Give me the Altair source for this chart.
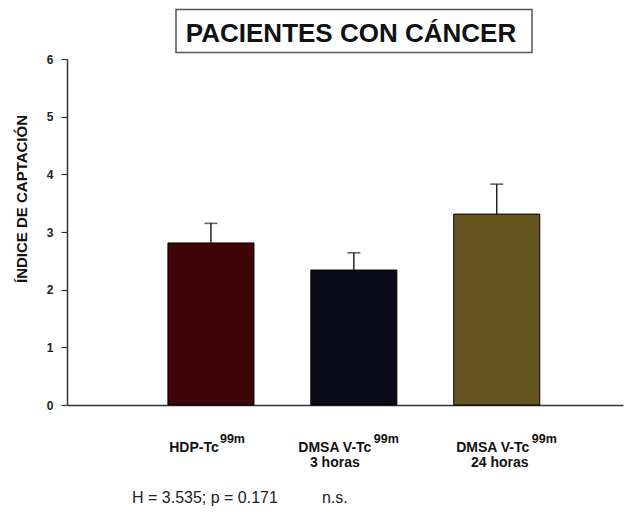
import altair as alt
import pandas as pd

# ---- data ----
categories = ["HDP", "DMSA3", "DMSA24"]
main_labels = ["HDP-Tc", "DMSA V-Tc", "DMSA V-Tc"]
sup_labels = ["99m", "99m", "99m"]
second_lines = ["", "3 horas", "24 horas"]
means = [2.81, 2.34, 3.31]
upper = [3.15, 2.64, 3.83]
colors = ["#3e0608", "#0a0a18", "#665521"]
y_ticks = [0, 1, 2, 3, 4, 5, 6]
title_text = "PACIENTES CON CÁNCER"
y_title = "ÍNDICE DE CAPTACIÓN"
footer_stat = "H = 3.535; p = 0.171"
footer_ns = "n.s."

df = pd.DataFrame({
    "cat": categories,
    "main": main_labels,
    "sup": sup_labels,
    "line2": second_lines,
    "mean": means,
    "upper": upper,
})

FONT = "Liberation Sans"
W, H = 556, 346

# style offsets (pixels) for the composite labels
main_dx = [-17, -19, -4]
sup_dx = [9, 20, 35]
line2_dx = [0, -19, 3]

xscale = alt.Scale(domain=categories, paddingInner=0.398, paddingOuter=0.6445, align=0.548)
x_enc = alt.X("cat:N", sort=categories, scale=xscale,
              axis=alt.Axis(labels=False, ticks=False, title=None, domainColor="#333",
                            domainWidth=1.5, grid=False))

base = alt.Chart(df)

bars = base.mark_bar(stroke="#000", strokeWidth=1).encode(
    x=x_enc,
    y=alt.Y("mean:Q", scale=alt.Scale(domain=[0, 6], nice=False),
            axis=alt.Axis(values=y_ticks, format="d", tickSize=6, tickColor="#333",
                          tickWidth=1.2, labelPadding=8, labelFont=FONT,
                          labelFontSize=12, labelFontWeight="bold", labelColor="#222",
                          domainColor="#333", domainWidth=1.5, grid=False,
                          title=y_title, titleFont=FONT, titleFontSize=15,
                          titleFontWeight="bold", titleColor="#111", titleAngle=270,
                          titleX=-41, titleY=139.5, titleAlign="center",
                          titleBaseline="alphabetic")),
    color=alt.Color("cat:N", sort=categories,
                    scale=alt.Scale(domain=categories, range=colors), legend=None),
)

stems = base.mark_rule(strokeWidth=1.5, color="#222").encode(
    x=alt.X("cat:N", sort=categories), y="mean:Q", y2="upper:Q")
caps = base.mark_tick(size=13, thickness=1.6, color="#222").encode(
    x=alt.X("cat:N", sort=categories), y="upper:Q")

layers = [bars, stems, caps]

for i, c in enumerate(categories):
    sub = base.transform_filter(alt.datum.cat == c)
    layers.append(sub.mark_text(font=FONT, fontSize=14, fontWeight="bold", color="#111",
                                align="center", baseline="alphabetic", dx=main_dx[i]).encode(
        x=alt.X("cat:N", sort=categories), y=alt.value(392.5), text="main:N"))
    layers.append(sub.mark_text(font=FONT, fontSize=12.5, fontWeight="bold", color="#111",
                                align="left", baseline="alphabetic", dx=sup_dx[i]).encode(
        x=alt.X("cat:N", sort=categories), y=alt.value(384), text="sup:N"))
    layers.append(sub.mark_text(font=FONT, fontSize=14, fontWeight="bold", color="#111",
                                align="center", baseline="alphabetic", dx=line2_dx[i]).encode(
        x=alt.X("cat:N", sort=categories), y=alt.value(407.5), text="line2:N"))

# title box
box = alt.Chart(pd.DataFrame({"t": [title_text]})).mark_rect(
    fill="white", stroke="#555", strokeWidth=1.5).encode(
    x=alt.value(109), x2=alt.value(465), y=alt.value(-49.5), y2=alt.value(-6.5))
title = alt.Chart(pd.DataFrame({"t": [title_text]})).mark_text(
    font=FONT, fontSize=26, fontWeight="bold", color="#111", align="center",
    baseline="alphabetic").encode(x=alt.value(284), y=alt.value(-17), text="t:N")

foot1 = alt.Chart(pd.DataFrame({"t": [footer_stat]})).mark_text(
    font=FONT, fontSize=16, color="#222", align="left", baseline="alphabetic").encode(
    x=alt.value(65), y=alt.value(444), text="t:N")
foot2 = alt.Chart(pd.DataFrame({"t": [footer_ns]})).mark_text(
    font=FONT, fontSize=16, color="#222", align="left", baseline="alphabetic").encode(
    x=alt.value(255), y=alt.value(444), text="t:N")

chart = alt.layer(*layers, box, title, foot1, foot2).properties(
    width=W, height=H,
    autosize=alt.AutoSizeParams(type="none"),
    padding={"left": 59, "top": 51, "right": 2, "bottom": 102},
    background="white",
).configure_view(stroke=None)

chart.save("out.html", embed_options={"renderer": "svg", "actions": False})
